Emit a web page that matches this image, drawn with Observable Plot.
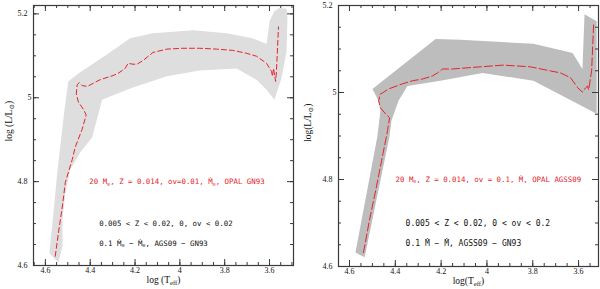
<!DOCTYPE html>
<html><head><meta charset="utf-8">
<script src="https://cdn.jsdelivr.net/npm/d3@7"></script>
<script src="https://cdn.jsdelivr.net/npm/@observablehq/plot@0.6"></script>
<style>
body{margin:0;background:#fff;}
#wrap{display:flex;width:600px;height:289px;overflow:hidden;}
</style></head><body><div id="wrap"></div>
<script>
// ---------- data ----------
// Left panel: grey uncertainty band (polygon) and red dashed track
const leftBandT = [4.582,4.564,4.547,4.529,4.516,4.498,4.453,4.324,4.222,4.120,3.942,3.791,3.676,3.613,3.600,3.578,3.556,3.524,3.520,3.524,3.547,3.578,3.613,3.658,3.747,3.911,4.058,4.222,4.347,4.391,4.444,4.489,4.511,4.524,4.524,4.542];
const leftBandL = [4.629,4.725,4.822,4.906,4.966,5.039,5.058,5.104,5.142,5.154,5.161,5.154,5.142,5.128,5.183,5.207,5.214,5.212,5.190,5.111,5.046,4.995,5.019,5.043,5.070,5.065,5.051,5.022,4.995,4.906,4.870,4.829,4.773,4.708,4.646,4.607];
const leftTrackT = [4.556,4.542,4.524,4.511,4.480,4.467,4.436,4.418,4.431,4.453,4.462,4.458,4.449,4.436,4.413,4.356,4.298,4.276,4.244,4.231,4.209,4.191,4.164,4.120,4.058,3.987,3.911,3.836,3.764,3.702,3.658,3.613,3.591,3.587,3.582,3.573,3.569,3.560];
const leftTrackL = [4.622,4.677,4.742,4.798,4.853,4.882,4.925,4.959,4.973,4.990,5.010,5.031,5.036,5.029,5.027,5.043,5.053,5.058,5.070,5.082,5.080,5.080,5.089,5.108,5.116,5.118,5.118,5.116,5.113,5.106,5.099,5.082,5.063,5.051,5.070,5.039,5.063,5.169];
// Right panel
const rightBandT = [4.574,4.478,4.465,4.473,4.500,4.224,4.115,3.797,3.626,3.583,3.574,3.521,3.521,3.797,4.019,4.203,4.347,4.386,4.417,4.425,4.534];
const rightBandL = [4.632,4.900,4.958,4.981,5.008,5.123,5.121,5.112,5.091,5.054,5.180,5.164,4.951,5.027,5.045,5.027,5.015,4.981,4.935,4.900,4.621];
const rightTrackT = [4.539,4.513,4.486,4.460,4.434,4.425,4.443,4.465,4.473,4.465,4.456,4.430,4.369,4.325,4.281,4.238,4.216,4.194,4.150,4.080,3.928,3.810,3.679,3.635,3.604,3.583,3.569,3.561,3.556,3.543,3.534];
const rightTrackL = [4.632,4.706,4.774,4.843,4.912,4.942,4.951,4.965,4.981,4.997,4.999,5.008,5.020,5.027,5.031,5.038,5.045,5.054,5.054,5.057,5.063,5.059,5.045,5.034,5.011,5.001,5.011,5.015,5.006,5.050,5.160];

// Tick labels
const xTicks = [4.6, 4.4, 4.2, 4, 3.8, 3.6];
const yTicks = [4.6, 4.8, 5, 5.2];

// Texts
const leftNotes = ["20 M_{⊙}, Z = 0.014, ov=0.01, Ṁ_{⊙}, OPAL GN93", "0.005 < Z < 0.02, 0, ov < 0.02", "0.1 Ṁ_{⊙} − Ṁ_{⊙}, AGS09 − GN93"];
const rightNotes = ["20 M_{⊙}, Z = 0.014, ov = 0.1, Ṁ, OPAL AGSS09", "0.005 < Z < 0.02, 0 < ov < 0.2", "0.1 Ṁ − Ṁ, AGSS09 − GN93"];
const leftLabels = {x: "log (T_{eff})", y: "log (L/L_{⊙})"};
const rightLabels = {x: "log(T_{eff})", y: "log(L/L_{⊙})"};

const RED = "#e3232b";
const AXIS = "#3a3a3a";

function subs(svg){
  svg.querySelectorAll("text").forEach(t=>{
    if(t.children.length || !t.textContent.includes("_{")) return;
    const s = t.textContent; t.textContent = "";
    let sub = false;
    for(const p of s.split(/(_\{[^}]*\})/)){
      if(!p) continue;
      const ts = document.createElementNS("http://www.w3.org/2000/svg","tspan");
      if(p.startsWith("_{")){ ts.textContent = p.slice(2,-1); ts.setAttribute("font-size","70%"); ts.setAttribute("dy","0.3em"); sub = true; }
      else { ts.textContent = p; if(sub){ ts.setAttribute("dy","-0.21em"); sub = false; } }
      t.appendChild(ts);
    }
  });
}

function panel(o){
  const W = 300, H = 289;
  const fh = H - o.mt - o.mb, fw = W - o.ml - o.mr;
  const band = o.bandT.map((t,i)=>({T:t, L:o.bandL[i]}));
  const track = o.trackT.map((t,i)=>({T:t, L:o.trackL[i]}));
  const xlo = Math.min(...o.xDomain), xhi = Math.max(...o.xDomain);
  const minorX = d3.range(70, 94).map(i=>+(i*0.05).toFixed(2)).filter(v=>v>xlo && v<xhi);
  const minorY = d3.range(92, 105).map(i=>+(i*0.05).toFixed(2)).filter(v=>v>=o.yDomain[0] && v<=o.yDomain[1]);
  const majX = xTicks, majY = yTicks.filter(v=>v<=o.yDomain[1]);
  const fmt = d => String(d);
  const mono = "'DejaVu Sans Mono','Liberation Mono',monospace";
  const note = (txt, x, y, fill, fs) => Plot.text([txt], {x: ()=>x, y: ()=>y, text: d=>d, textAnchor: "start", fill, fontSize: fs, fontFamily: mono});
  const svg = Plot.plot({
    width: W, height: H,
    marginLeft: o.ml, marginRight: o.mr, marginTop: o.mt, marginBottom: o.mb,
    x: {domain: o.xDomain},
    y: {domain: o.yDomain},
    style: {background: "white", fontFamily: "'Liberation Serif','DejaVu Serif',serif", color: "#111"},
    marks: [
      Plot.line(band, {x: "T", y: "L", fill: o.bandColor, stroke: "none"}),
      Plot.line(track, {x: "T", y: "L", stroke: RED, strokeWidth: 1, strokeDasharray: o.dash}),
      // inward ticks on all four sides
      Plot.ruleX(minorX, {insetTop: fh - 3, stroke: AXIS}),
      Plot.ruleX(minorX, {insetBottom: fh - 3, stroke: AXIS}),
      Plot.ruleX(majX, {insetTop: fh - 6, stroke: AXIS}),
      Plot.ruleX(majX, {insetBottom: fh - 6, stroke: AXIS}),
      Plot.ruleY(minorY, {insetRight: fw - 3, stroke: AXIS}),
      Plot.ruleY(minorY, {insetLeft: fw - 3, stroke: AXIS}),
      Plot.ruleY(majY, {insetRight: fw - 6, stroke: AXIS}),
      Plot.ruleY(majY, {insetLeft: fw - 6, stroke: AXIS}),
      Plot.frame({stroke: AXIS, strokeWidth: 1.2}),
      Plot.axisX(majX, {tickSize: 0, tickPadding: 2, fontSize: 8, label: null, tickFormat: fmt}),
      Plot.axisY(majY.filter(v=>v!==5), {tickSize: 0, tickPadding: 6, fontSize: 8, label: null, tickFormat: fmt}),
      Plot.axisY([5], {tickSize: 0, tickPadding: 2, fontSize: 8, label: null, tickFormat: fmt}),
      note(o.notes[0], o.noteX0, 4.80, RED, 7.4),
      note(o.notes[1], o.noteX1, 4.70, "#111", o.blackFs),
      note(o.notes[2], o.noteX1, 4.653, "#111", o.blackFs),
      Plot.text([o.labels.x], {text: d=>d, frameAnchor: "bottom", dy: 17, fontSize: 9.5}),
      Plot.text([o.labels.y], {text: d=>d, frameAnchor: "left", dx: o.ylabDx, dy: 6, rotate: -90, fontSize: 9.5})
    ]
  });
  subs(svg);
  return svg;
}

const wrap = document.getElementById("wrap");
wrap.appendChild(panel({
  ml: 33, mr: 7, mt: 5, mb: 24,
  xDomain: [4.653, 3.493], yDomain: [4.6, 5.22],
  bandT: leftBandT, bandL: leftBandL, trackT: leftTrackT, trackL: leftTrackL,
  bandColor: "#dedede", dash: "5,3",
  notes: leftNotes, noteX0: 4.404, noteX1: 4.36, blackFs: 7.4,
  labels: leftLabels, ylabDx: -25
}));
wrap.appendChild(panel({
  ml: 38, mr: 2, mt: 5, mb: 23,
  xDomain: [4.648, 3.513], yDomain: [4.6, 5.2],
  bandT: rightBandT, bandL: rightBandL, trackT: rightTrackT, trackL: rightTrackL,
  bandColor: "#bdbdbd", dash: "8,3",
  notes: rightNotes, noteX0: 4.399, noteX1: 4.355, blackFs: 8,
  labels: rightLabels, ylabDx: -31
}));
</script></body></html>
